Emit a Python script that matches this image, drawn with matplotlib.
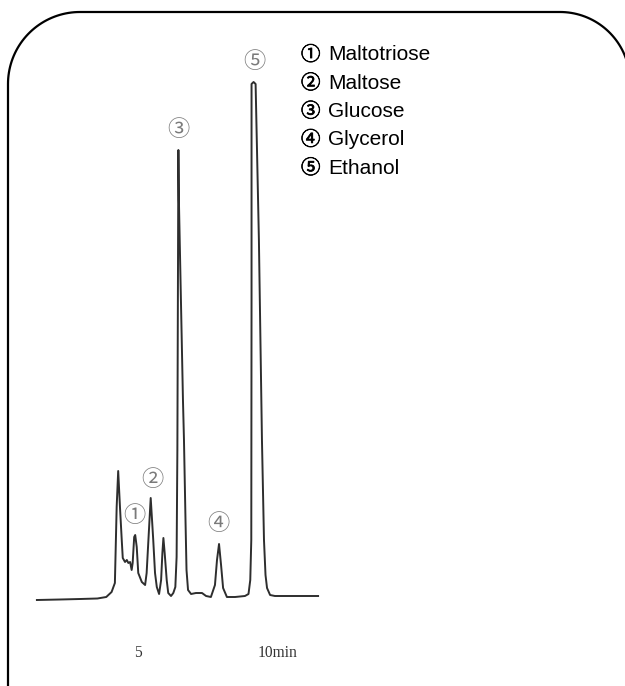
import numpy as np
import matplotlib
matplotlib.use("Agg")
import matplotlib.pyplot as plt
import matplotlib.patheffects as pe
from matplotlib.path import Path
from matplotlib.patches import PathPatch

# ---- data (retention time in min, detector signal in arbitrary units) ----
time_min = [1.02, 1.93, 2.72, 3.40, 3.75, 3.96, 4.09, 4.16, 4.22, 4.29, 4.36, 4.40, 4.49,
            4.56, 4.62, 4.69, 4.75, 4.79, 4.85, 4.89, 4.95, 5.01, 5.15, 5.28, 5.34,
            5.41, 5.50, 5.56, 5.60, 5.67, 5.74, 5.83, 5.91, 5.96, 6.00, 6.05, 6.13,
            6.19, 6.30, 6.39, 6.47, 6.52, 6.55, 6.57, 6.59, 6.61, 6.69, 6.77, 6.81,
            6.87, 6.91, 6.97, 7.09, 7.28, 7.52, 7.68, 7.87, 8.03, 8.11, 8.19, 8.27,
            8.35, 8.50, 8.82, 9.21, 9.35, 9.42, 9.46, 9.47, 9.47, 9.55, 9.63,
            9.76, 9.88, 9.96, 10.02, 10.08, 10.20, 10.39, 12.09]
signal = [0, 0.5, 1, 1.5, 3, 8, 17, 93, 129, 93, 60, 42, 38,
          40, 37, 38, 30, 37, 63, 65, 53, 27, 18, 15, 27,
          60, 102, 77, 60, 27, 13, 6, 20, 47, 62, 47, 20,
          7, 4, 7, 13, 43, 150, 300, 450, 400, 300, 200, 160,
          80, 30, 10, 6, 7, 7, 4, 3, 15, 40, 56, 35,
          12, 3, 3, 4, 6, 20, 60, 300, 516, 518, 516,
          360, 160, 60, 25, 12, 5, 4, 4]

peak_marks = ["①", "②", "③", "④", "⑤"]
peak_label_time = [4.84, 5.55, 6.57, 8.15, 9.57]
peak_label_signal = [85, 120, 471, 77, 538]

compounds = ["Maltotriose", "Maltose", "Glucose", "Glycerol", "Ethanol"]

axis_tick_time = [5, 9.69]
axis_tick_text = ["5", "10min"]

# ---- figure ----
W, H = 625, 686
fig = plt.figure(figsize=(W / 100, H / 100), dpi=100)
fig.patch.set_facecolor("white")
ax = fig.add_axes([0, 0, 1, 1])
ax.set_xlim(-0.433, 24.173)
ax.set_ylim(-86, 600)
ax.axis("off")

ax.plot(time_min, signal, color="#2e2e2e", lw=1.4, solid_joinstyle="round")

for m, t, s in zip(peak_marks, peak_label_time, peak_label_signal):
    ax.text(t, s, m, ha="center", va="center", fontsize=16, color="#7a7a7a",
            family=["Noto Sans CJK JP", "DejaVu Sans"])

ax.text(axis_tick_time[0], -53, axis_tick_text[0], ha="center", va="center",
        fontsize=11.2, color="#333333", family="Liberation Serif")
ax.text(axis_tick_time[1], -53, axis_tick_text[1], ha="left", va="center",
        fontsize=11.2, color="#333333", family="Liberation Serif")

# legend list
for i, (m, name) in enumerate(zip(peak_marks, compounds)):
    y = 55 + i * 28.3
    fig.text(301 / W, 1 - y / H, m, ha="left", va="center", fontsize=14,
             color="black", family=["Noto Sans CJK JP", "DejaVu Sans"],
             path_effects=[pe.withStroke(linewidth=0.5, foreground="black")])
    fig.text(328 / W, 1 - y / H, name, ha="left", va="center", fontsize=15,
             color="black", family="Liberation Sans")

# rounded frame (open at bottom, right side running off the canvas)
def arc(cx, cy, r, a0, a1, n=40):
    a = np.linspace(np.radians(a0), np.radians(a1), n)
    return [(cx + r * np.cos(t), cy - r * np.sin(t)) for t in a]

R1, R2 = 72, 70
top, left = 12, 8
pts = [(left, H + 5)]
pts += arc(left + R1, top + R1, R1, 180, 90)
pts += [(560, top)]
pts += arc(560, top + R2, R2, 90, 0)
pts += [(560 + R2, H + 5)]
pts_fig = [(x / W, 1 - y / H) for x, y in pts]
frame = PathPatch(Path(pts_fig), transform=fig.transFigure, fill=False,
                  lw=1.6, edgecolor="black", capstyle="butt", joinstyle="round")
fig.add_artist(frame)

fig.savefig("out.png", dpi=100, facecolor="white")
